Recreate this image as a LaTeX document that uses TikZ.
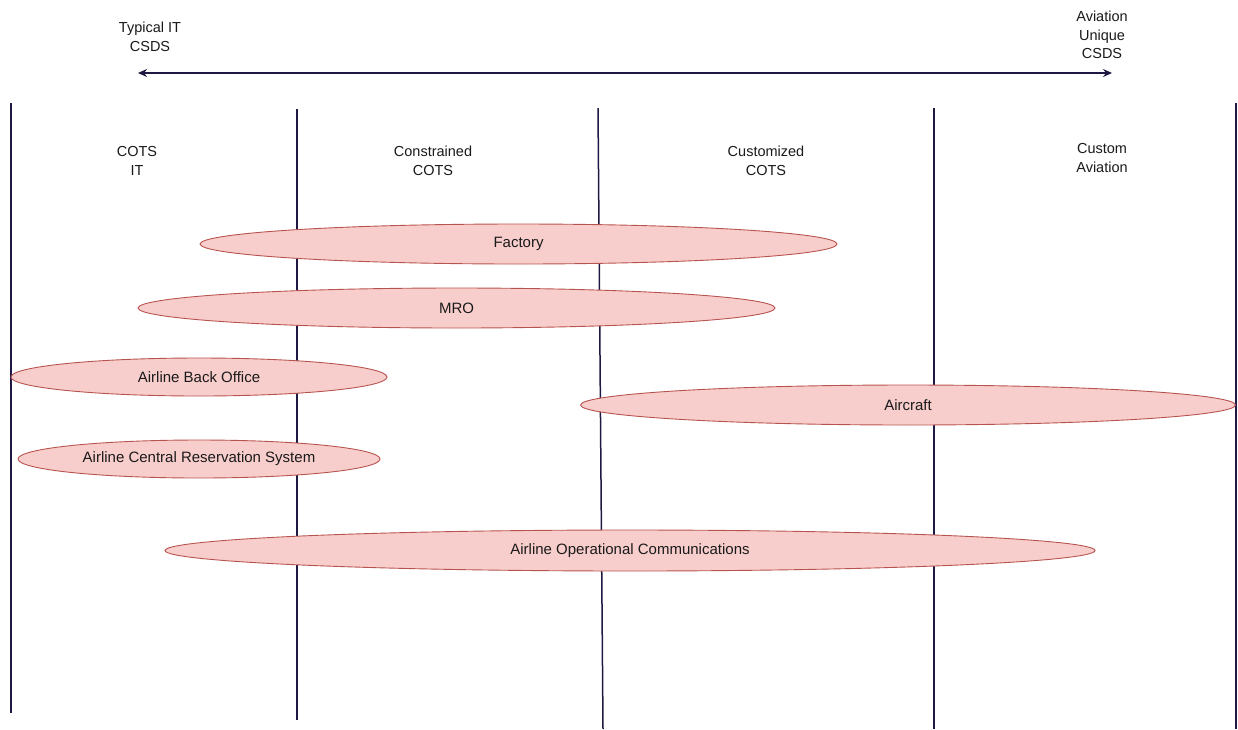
\documentclass[tikz,border=0pt]{standalone}
\usepackage{fontspec}
\setmainfont{Liberation Sans}
\usetikzlibrary{shapes.geometric,arrows.meta}
\definecolor{linecol}{HTML}{1E1842}
\definecolor{ovalfill}{HTML}{F8CECC}
\definecolor{ovaldraw}{HTML}{B85450}
\definecolor{txtcol}{HTML}{1A1A1A}
\begin{document}
\begin{tikzpicture}[x=1pt,y=-1pt,
  divider/.style={draw=linecol,line width=1.5pt},
  label/.style={align=center,text=txtcol,font=\fontsize{14.5}{18.5}\selectfont,inner sep=0pt},
  oval/.style={ellipse,draw=ovaldraw,fill=ovalfill,line width=0.9pt,inner sep=0pt,
    font=\fontsize{15}{17}\selectfont,text=txtcol}]
\useasboundingbox (0,0) rectangle (1238,729);
% column dividers
\coordinate (t1) at (11,103);  \coordinate (b1) at (11,713);
\coordinate (t2) at (297,109); \coordinate (b2) at (297,720);
\coordinate (t3) at (598,108); \coordinate (b3) at (603,729);
\coordinate (t4) at (934,108); \coordinate (b4) at (934,729);
\coordinate (t5) at (1236,103); \coordinate (b5) at (1236,729);
\foreach \i in {1,...,5} \draw[divider] (t\i) -- (b\i);
% spectrum arrow
\coordinate (al) at (138,73);
\coordinate (ar) at (1112,73);
\draw[divider,{Stealth[length=9pt,width=8pt]}-{Stealth[length=9pt,width=8pt]}] (al) -- (ar);
\node[label] (typ) at (150,37) {Typical IT\\CSDS};
\node[label] (avu) at (1102,35) {Aviation\\Unique\\CSDS};
% column headings
\node[label] (c1) at (137,161) {COTS\\IT};
\node[label] (c2) at (433,161) {Constrained\\COTS};
\node[label] (c3) at (766,161) {Customized\\COTS};
\node[label] (c4) at (1102,158) {Custom\\Aviation};
% systems
\node[oval,minimum width=637,minimum height=40] (fac) at (518.5,244) {Factory};
\node[oval,minimum width=637,minimum height=40] (mro) at (456.5,308) {MRO};
\node[oval,minimum width=376,minimum height=38] (abo) at (199,377) {Airline Back Office};
\node[oval,minimum width=655,minimum height=40] (acf) at (908,405) {Aircraft};
\node[oval,minimum width=362,minimum height=38] (crs) at (199,459) {Airline Central Reservation System};
\node[oval,minimum width=930,minimum height=41] (aoc) at (630,550.5) {Airline Operational Communications};
\end{tikzpicture}
\end{document}
